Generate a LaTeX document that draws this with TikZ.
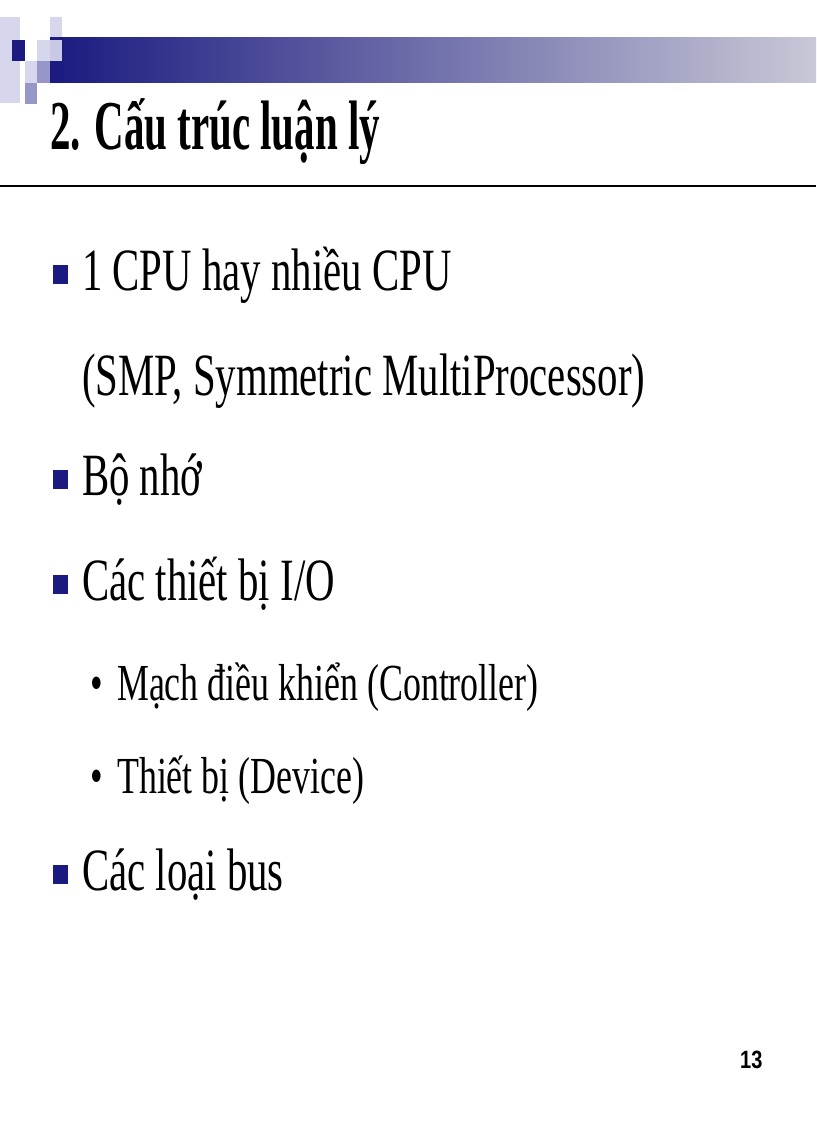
\documentclass[tikz,border=0pt]{standalone}
\usepackage{fontspec}
\setmainfont{Liberation Serif}
\newfontfamily\numfont{Liberation Sans}
\definecolor{navy}{RGB}{26,26,128}
\definecolor{lightp}{RGB}{214,214,236}
\definecolor{midp}{RGB}{150,150,200}
\definecolor{barend}{RGB}{200,200,215}
\begin{document}
\begin{tikzpicture}[x=1pt,y=-1pt,
  body/.style={anchor=base west,inner sep=0,font=\fontsize{60}{62}\selectfont,xscale=0.68},
  sub/.style={anchor=base west,inner sep=0,font=\fontsize{52}{54}\selectfont,xscale=0.69},
  sq/.style={fill=navy,draw=none}]
\useasboundingbox (0,0) rectangle (816,1123);
\fill[lightp] (0,17) rectangle (20,103);
\fill[lightp] (50,17) rectangle (62,40);
\shade[left color=navy,right color=barend,shading angle=90] (50,38) rectangle (816,83);
\fill[lightp] (37,40) rectangle (62,61);
\fill[lightp!80!midp] (50,40) rectangle (62,61);
\fill[navy] (12,40) rectangle (25,61);
\fill[lightp] (25,61) rectangle (37,83);
\fill[midp] (37,61) rectangle (50,83);
\fill[midp] (25,83) rectangle (37,104);
\node[anchor=base west,inner sep=0,font=\fontsize{70}{72}\selectfont\bfseries,xscale=0.585] (title) at (50,150) {2. Cấu trúc luận lý};
\draw[line width=2pt] (0,186) -- (816,186) coordinate (rule);
\fill[sq] (53,265) rectangle (68,284);
\node[body] (l1) at (82,290) {1 CPU hay nhiều CPU};
\node[body] (l2) at (82,395) {(SMP, Symmetric MultiProcessor)};
\fill[sq] (53,470) rectangle (68,489);
\node[body] (l3) at (82,495) {Bộ nhớ};
\fill[sq] (53,575) rectangle (68,594);
\node[body] (l4) at (82,600) {Các thiết bị I/O};
\node[sub] (b1) at (90,700) {•};
\node[sub] (l5) at (117,700) {Mạch điều khiển (Controller)};
\node[sub] (b2) at (90,793) {•};
\node[sub] (l6) at (117,793) {Thiết bị (Device)};
\fill[sq] (53,865) rectangle (68,884);
\node[body] (l7) at (82,890) {Các loại bus};
\node[anchor=base west,inner sep=0,font=\numfont\bfseries\fontsize{25}{27}\selectfont,xscale=0.8] (pg) at (740,1068) {13};
\end{tikzpicture}
\end{document}
